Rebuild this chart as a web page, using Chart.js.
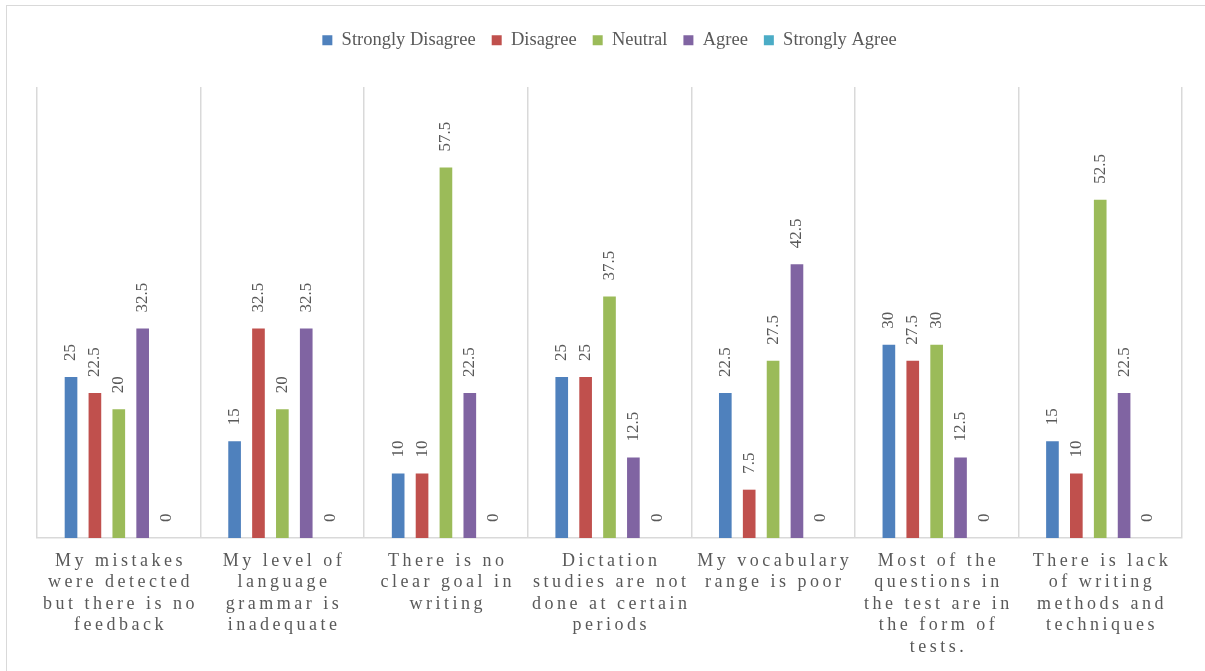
<!DOCTYPE html>
<html>
<head>
<meta charset="utf-8">
<script src="https://cdn.jsdelivr.net/npm/chart.js@4"></script>
<style>
  html, body { margin: 0; padding: 0; background: #fff; overflow: hidden; }
  #frame { position: absolute; left: 6px; top: 5px; width: 1400px; height: 900px; border: 1.5px solid #d9d9d9; }
  #wrap { position: absolute; left: 0; top: 0; width: 1205px; height: 671px; }
</style>
</head>
<body>
<div id="frame"></div>
<div id="wrap"><canvas id="barChart"></canvas></div>
<script>
// categories, one array of lines per statement
const categories = [
    ["My mistakes", "were detected", "but there is no", "feedback"],
    ["My level of", "language", "grammar is", "inadequate"],
    ["There is no", "clear goal in", "writing"],
    ["Dictation", "studies are not", "done at certain", "periods"],
    ["My vocabulary", "range is poor"],
    ["Most of the", "questions in", "the test are in", "the form of", "tests."],
    ["There is lack", "of writing", "methods and", "techniques"]
];

const stronglyDisagree = [25, 15, 10, 25, 22.5, 30, 15];
const disagree = [22.5, 32.5, 10, 25, 7.5, 27.5, 10];
const neutral = [20, 20, 57.5, 37.5, 27.5, 30, 52.5];
const agree = [32.5, 32.5, 22.5, 12.5, 42.5, 12.5, 22.5];
const stronglyAgree = [0, 0, 0, 0, 0, 0, 0];

const grey = "#595959";
const serif = "'Liberation Serif', 'Times New Roman', serif";

// value labels, rotated and drawn above each bar
const valueLabels = {
    id: "valueLabels",
    afterDatasetsDraw(chart) {
        let ctx = chart.ctx;
        ctx.save();
        ctx.font = "17px " + serif;
        ctx.fillStyle = grey;
        ctx.textAlign = "left";
        ctx.textBaseline = "middle";
        chart.data.datasets.forEach((ds, i) => {
            chart.getDatasetMeta(i).data.forEach((bar, j) => {
                ctx.save();
                ctx.translate(bar.x, bar.y - 16);
                ctx.rotate(-Math.PI / 2);
                ctx.fillText(String(ds.data[j]), 0, 0);
                ctx.restore();
            });
        });
        ctx.restore();
    }
};

// extra room under the legend, and letter spaced category labels
const layoutTweaks = {
    id: "layoutTweaks",
    beforeInit(chart) {
        const fit = chart.legend.fit;
        chart.legend.fit = function () {
            fit.bind(chart.legend)();
            this.height = 72;
        };
    },
    beforeDraw(chart) {
        let x = chart.scales.x;
        if (x && !x._spaced) {
            const draw = x.drawLabels;
            x.drawLabels = function (area) {
                let ctx = this.ctx;
                ctx.save();
                ctx.letterSpacing = "3.5px";
                ctx.translate(1.75, 0);
                draw.call(this, area);
                ctx.restore();
            };
            x._spaced = true;
        }
    }
};

let ctx = document.getElementById("barChart").getContext("2d");
new Chart(ctx, {
    type: "bar",
    data: {
        labels: categories,
        datasets: [
            { label: "Strongly Disagree", data: stronglyDisagree, backgroundColor: "#4F81BD" },
            { label: "Disagree", data: disagree, backgroundColor: "#C0504D" },
            { label: "Neutral", data: neutral, backgroundColor: "#9BBB59" },
            { label: "Agree", data: agree, backgroundColor: "#8064A2" },
            { label: "Strongly Agree", data: stronglyAgree, backgroundColor: "#4BACC6" }
        ]
    },
    options: {
        responsive: true,
        maintainAspectRatio: false,
        animation: false,
        categoryPercentage: 0.73,
        barPercentage: 0.53,
        borderWidth: 0,
        layout: { padding: { left: 37, right: 23, top: 15, bottom: 1 } },
        plugins: {
            legend: {
                position: "top",
                labels: {
                    boxWidth: 10,
                    boxHeight: 10,
                    padding: 16,
                    color: grey,
                    font: { family: serif, size: 18.5 }
                }
            },
            tooltip: { enabled: false }
        },
        scales: {
            x: {
                grid: { color: "#d9d9d9", lineWidth: 1.5, drawTicks: false, offset: true },
                border: { color: "#d9d9d9", width: 1.5 },
                ticks: {
                    color: grey,
                    padding: 12,
                    maxRotation: 0,
                    autoSkip: false,
                    font: { family: serif, size: 18, lineHeight: 1.2 }
                }
            },
            y: {
                display: false,
                min: 0,
                max: 70
            }
        }
    },
    plugins: [valueLabels, layoutTweaks]
});
</script>
</body>
</html>
